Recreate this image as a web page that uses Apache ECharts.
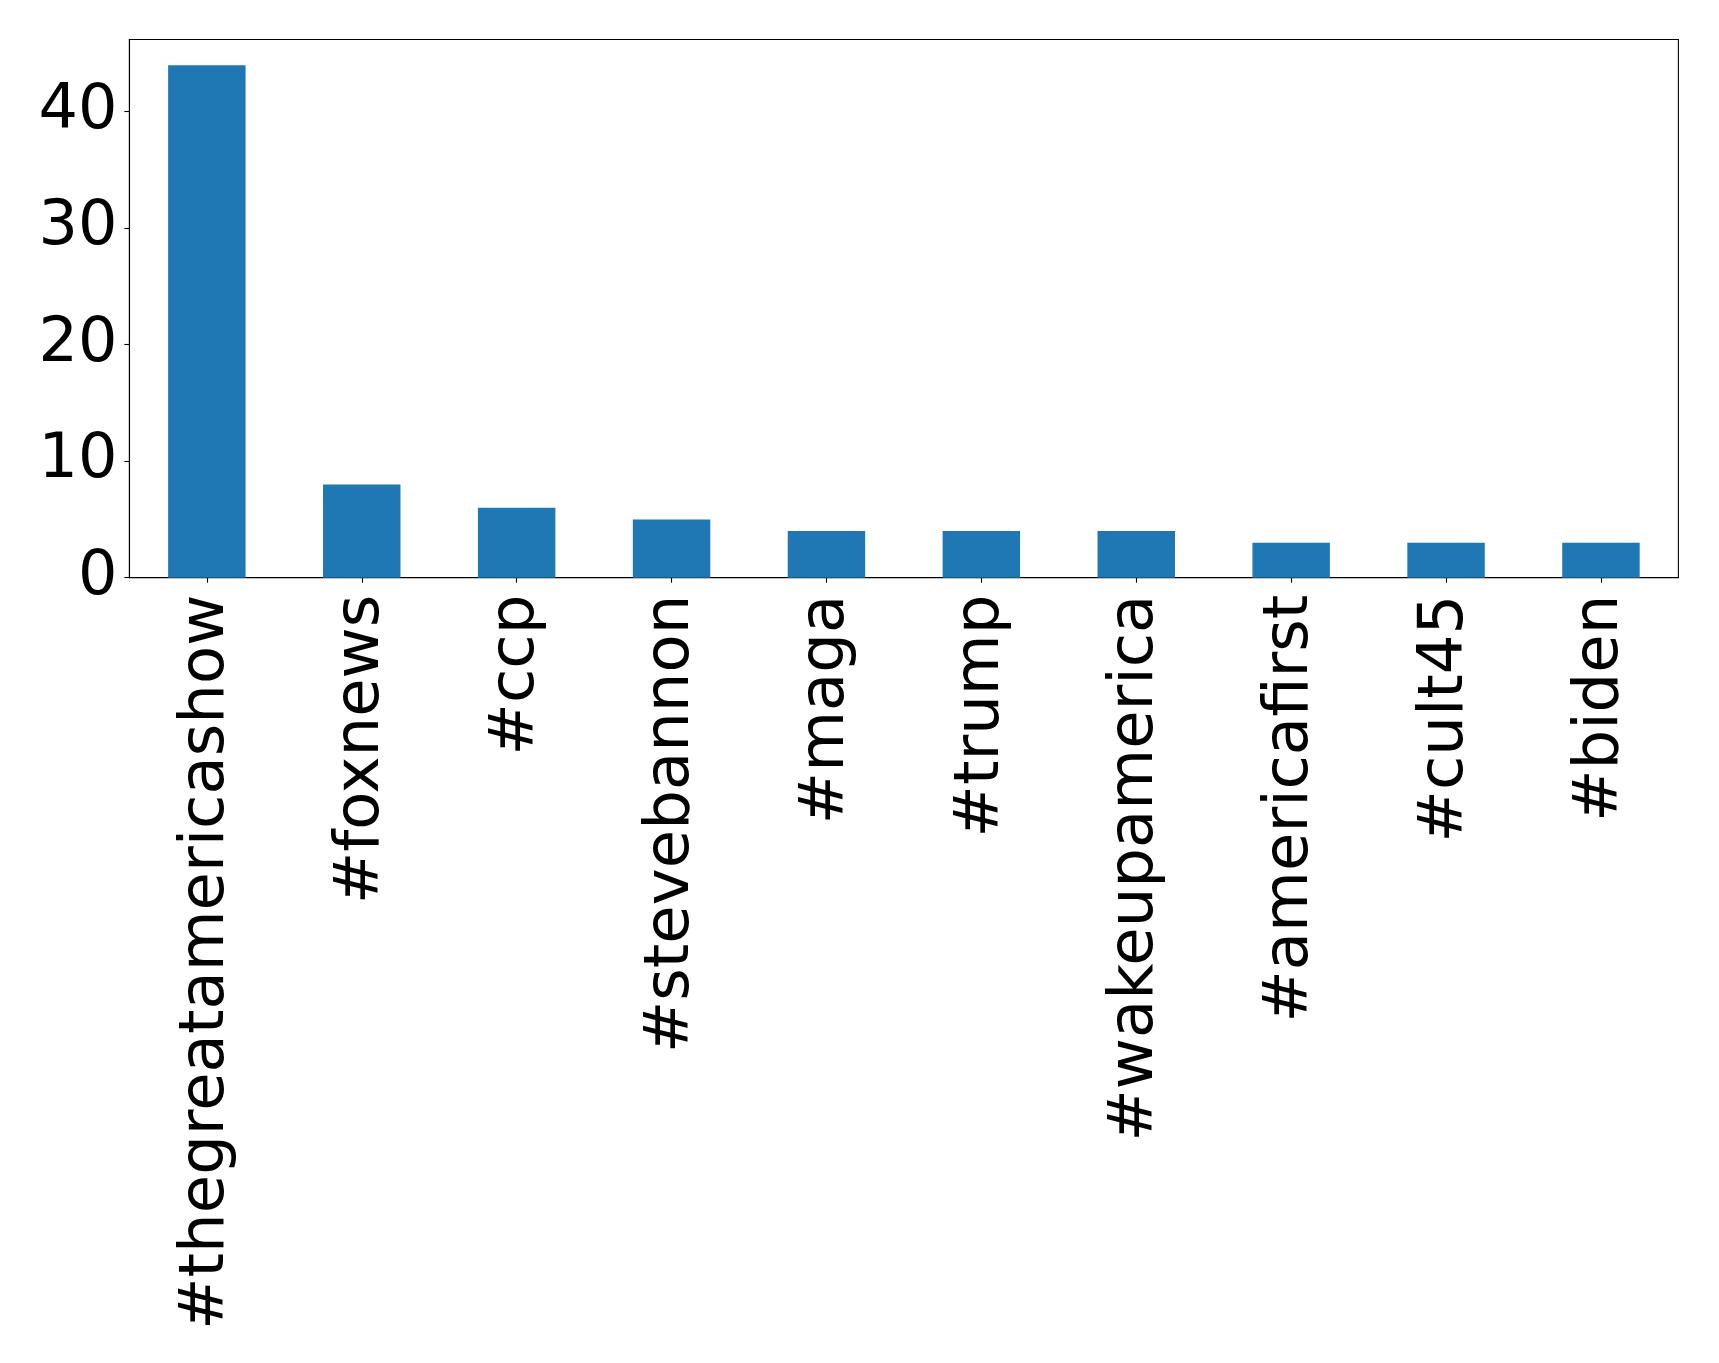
<!DOCTYPE html>
<html>
<head>
<meta charset="utf-8">
<script src="https://cdn.jsdelivr.net/npm/echarts@6/dist/echarts.min.js"></script>
<style>html,body{margin:0;padding:0;background:#fff;}#c{width:1719px;height:1363px;}</style>
</head>
<body>
<div id="c"></div>
<script>
const categories = ['#thegreatamericashow','#foxnews','#ccp','#stevebannon','#maga','#trump','#wakeupamerica','#americafirst','#cult45','#biden'];
const counts = [44, 8, 6, 5, 4, 4, 4, 3, 3, 3];
const yTicks = [0, 10, 20, 30, 40];
const yMax = 46.2;

const chart = echarts.init(document.getElementById('c'), null, {renderer: 'canvas'});
const font = 'DejaVu Sans';
chart.setOption({
  animation: false,
  backgroundColor: '#fff',
  grid: {left: 129.4, right: 40.6, top: 39.5, bottom: 785.3, show: true, borderColor: '#000', borderWidth: 1.1, containLabel: false},
  xAxis: {
    type: 'category',
    data: categories,
    boundaryGap: true,
    axisLine: {show: true, lineStyle: {color: '#000', width: 1.1}},
    axisTick: {show: true, alignWithLabel: true, length: 5, lineStyle: {color: '#000', width: 1.1}},
    axisLabel: {rotate: 90, interval: 0, margin: 17, fontFamily: font, fontSize: 62.5, color: '#000', padding: [10, 0, 0, 0]},
    splitLine: {show: false}
  },
  yAxis: {
    type: 'value',
    min: 0, max: yMax, interval: 10,
    axisLine: {show: true, lineStyle: {color: '#000', width: 1.1}},
    axisTick: {show: true, length: 5, lineStyle: {color: '#000', width: 1.1}, customValues: yTicks},
    axisLabel: {margin: 12, fontFamily: font, fontSize: 62, color: '#000', customValues: yTicks},
    splitLine: {show: false}
  },
  series: [{
    type: 'bar',
    data: counts,
    barWidth: '50%',
    itemStyle: {color: '#1f77b4'}
  }]
});
</script>
</body>
</html>
